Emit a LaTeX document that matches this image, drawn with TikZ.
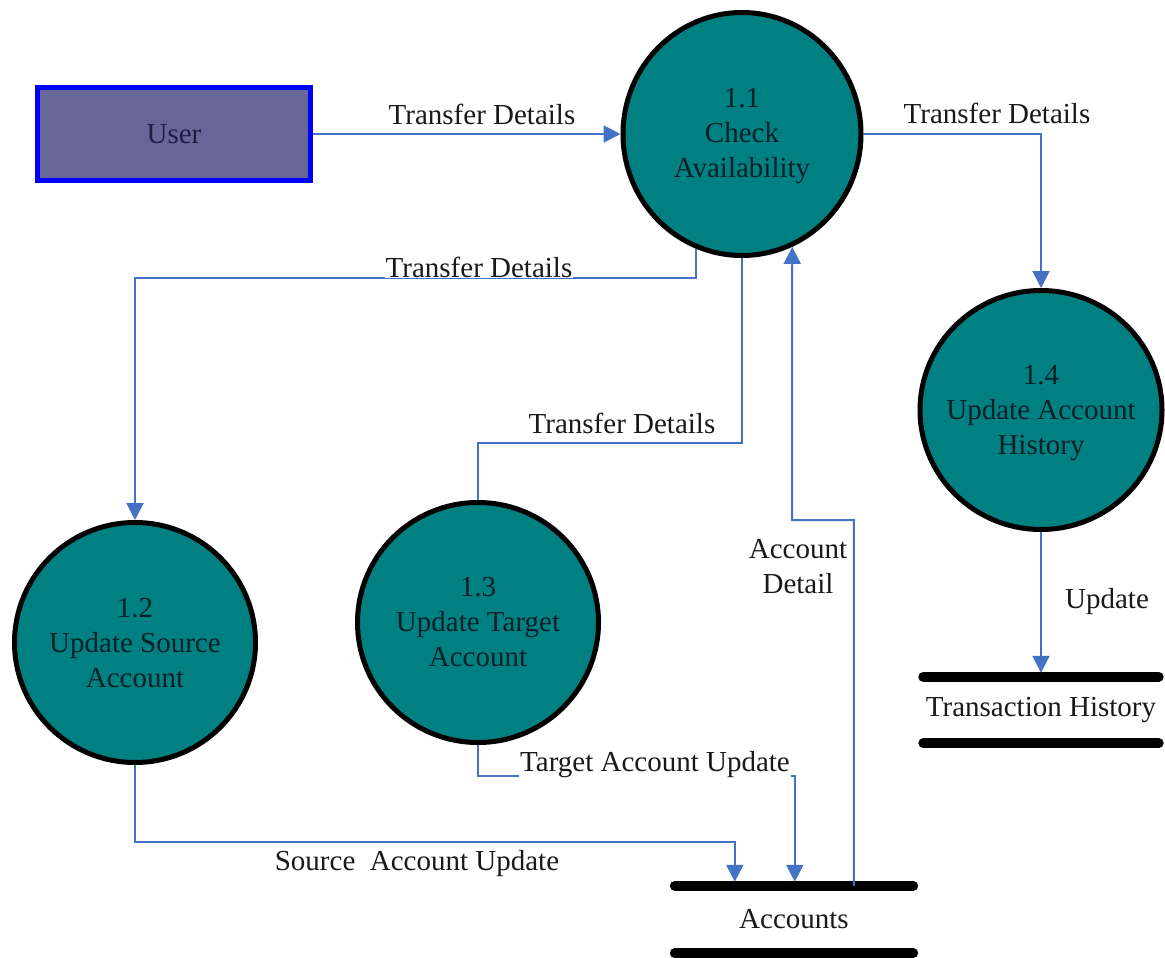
\documentclass[tikz,border=0pt]{standalone}
\usepackage{fontspec}
\setmainfont{Liberation Serif}
\usetikzlibrary{shapes.geometric,arrows.meta,calc}

\definecolor{flowblue}{RGB}{68,114,196}
\definecolor{procteal}{RGB}{0,128,128}
\definecolor{proctext}{RGB}{8,32,42}
\definecolor{extfill}{RGB}{102,102,153}
\definecolor{extline}{RGB}{0,0,255}
\definecolor{exttext}{RGB}{30,30,66}
\definecolor{labeltext}{RGB}{25,25,25}

\tikzset{
  basefont/.style={font=\fontsize{29}{35}\selectfont},
  proc/.style={ellipse, draw=black, line width=5pt, fill=procteal, inner sep=0pt},
  proctxt/.style={basefont, align=center, text=proctext, inner sep=0pt},
  extent/.style={rectangle, draw=extline, line width=5pt, fill=extfill, basefont,
    text=exttext, minimum width=273pt, minimum height=92pt, inner sep=0pt},
  store/.style={basefont, text=labeltext, inner sep=0pt},
  bar/.style={line width=10pt, line cap=round, draw=black},
  flow/.style={draw=flowblue, line width=2pt, -{Triangle[length=17pt,width=17pt]}},
  plainflow/.style={draw=flowblue, line width=2pt},
  lbl/.style={basefont, text=labeltext, fill=white, inner sep=1pt, align=center},
}

\begin{document}
\begin{tikzpicture}[x=1pt, y=-1pt]
\useasboundingbox (0,0) rectangle (1165,958);

% external entity
\node[extent] (user) at (174,134) {User};

% processes
\node[proc, minimum width=238pt, minimum height=243pt] (c11) at (742,134) {};
\node[proc, minimum width=242pt, minimum height=239pt] (c14) at (1041,410) {};
\node[proc, minimum width=241pt, minimum height=240pt] (c12) at (135,642.5) {};
\node[proc, minimum width=241pt, minimum height=240pt] (c13) at (478,622.5) {};

\node[proctxt] (t11) at ($(c11)+(0,2)$) {1.1\\Check\\Availability};
\node[proctxt] (t14) at ($(c14)+(0,3)$) {1.4\\Update Account\\History};
\node[proctxt] (t12) at ($(c12)+(0,1)$) {1.2\\Update Source\\Account};
\node[proctxt] (t13) at (c13) {1.3\\Update Target\\Account};

% data stores
\node[store, minimum width=238pt, minimum height=67pt] (acc) at (794,919.5) {Accounts};
\node[store, minimum width=235pt, minimum height=66pt] (th) at (1041,710) {Transaction History};
\draw[bar] (acc.north west) -- (acc.north east);
\draw[bar] (acc.south west) -- (acc.south east);
\draw[bar] (th.north west) -- (th.north east);
\draw[bar] (th.south west) -- (th.south east);

% data flows
\draw[flow] (user.east) -- (c11.west);
\draw[flow] (c11.east) -| (c14.north);
\draw[flow] (c11.-112.35) |- ($(c12.north)+(0,-242)$) -- (c12.north);
\draw[plainflow] (c11.south) |- ($(c13.north)+(0,-57)$) -- (c13.north);
\draw[flow] ($(acc.north west)+(179,0)$) |- ($(c11.center)+(50,386)$) -- (c11.-66.13);
\draw[flow] (c13.south) |- ($(acc.north west)+(120,-110)$) -- ($(acc.north west)+(120,-4)$);
\draw[flow] (c12.south) |- ($(acc.north west)+(60,-44)$) -- ($(acc.north west)+(60,-4)$);
\draw[flow] (c14.south) -- ($(th.north)+(0,-4)$);

% flow labels
\node[lbl] (l1) at (482,114) {Transfer Details};
\node[lbl] (l2) at (997,113) {Transfer Details};
\node[lbl] (l3) at (479,267) {Transfer Details};
\node[lbl] (l4) at (622,423) {Transfer Details};
\node[lbl, fill=none] (l5) at (798,567) {Account\\Detail};
\node[lbl] (l6) at (655,765) {Target Account Update};
\node[lbl] (l7) at (417,864) {Source\ \ Account Update};
\node[lbl] (l8) at (1107,602) {Update};
\end{tikzpicture}
\end{document}
